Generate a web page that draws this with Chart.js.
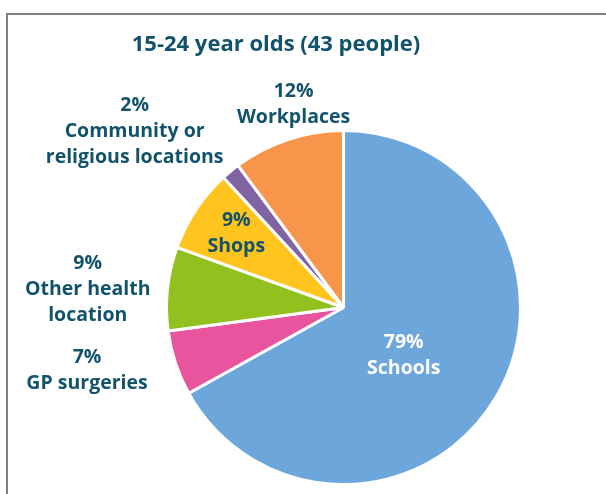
<!DOCTYPE html>
<html>
<head>
<meta charset="utf-8">
<script src="https://cdn.jsdelivr.net/npm/chart.js@4/dist/chart.umd.min.js"></script>
<style>
  html, body { margin: 0; padding: 0; background: #ffffff; }
  #wrap { position: relative; width: 606px; height: 494px; overflow: hidden; }
  #frame { position: absolute; left: 6px; top: 13px; width: 700px; height: 600px;
           border: 2px solid #808080; box-sizing: border-box; }
  canvas { position: absolute; left: 0; top: 0; }
</style>
</head>
<body>
<div id="wrap">
  <div id="frame"></div>
  <canvas id="chart" width="606" height="494"></canvas>
</div>
<script>
// Settings where people aged 15-24 were reported
const chartTitle = '15-24 year olds (43 people)';
const categories = ['Schools', 'GP surgeries', 'Other health location', 'Shops',
                    'Community or religious locations', 'Workplaces'];
const percentages = [79, 7, 9, 9, 2, 12];
const labelLines = [
  ['Schools'],
  ['GP surgeries'],
  ['Other health', 'location'],
  ['Shops'],
  ['Community or', 'religious locations'],
  ['Workplaces']
];
const sliceColors = ['#6CA6DA', '#E8559E', '#92C01F', '#FFC51E', '#8064A2', '#F7964A'];

// label anchor: fraction of the radius along each slice's middle angle, then a pixel nudge
const labelRadius = [0.5, 1.3, 1.3, 0.7, 1.3, 1.15];
const labelNudge = [[-16, 3], [-38, -9], [-27, 6], [-4, -6], [-62, 1], [14, -10]];
const labelColors = ['#ffffff', '#12536B', '#12536B', '#12536B', '#12536B', '#12536B'];

const textColor = '#12536B';
const fontFamily = '"Open Sans", "Noto Sans", sans-serif';

const sliceLabels = {
  id: 'sliceLabels',
  afterDatasetsDraw(chart) {
    const ctx = chart.ctx;
    const meta = chart.getDatasetMeta(0);
    ctx.save();
    ctx.textAlign = 'center';
    ctx.textBaseline = 'middle';

    // heading, set a little left of the pie's centre
    ctx.fillStyle = textColor;
    ctx.font = 'bold 22px ' + fontFamily;
    ctx.fillText(chartTitle, 276, 45);

    ctx.font = 'bold 19.5px ' + fontFamily;
    meta.data.forEach((arc, i) => {
      const p = arc.getProps(['x', 'y', 'startAngle', 'endAngle', 'outerRadius'], true);
      const mid = (p.startAngle + p.endAngle) / 2;
      const r = p.outerRadius * labelRadius[i];
      const cx = p.x + Math.cos(mid) * r + labelNudge[i][0];
      const cy = p.y + Math.sin(mid) * r + labelNudge[i][1];
      const lines = [percentages[i] + '%'].concat(labelLines[i]);
      const lh = 26;
      const top = cy - (lines.length - 1) * lh / 2;
      ctx.fillStyle = labelColors[i];
      lines.forEach((t, j) => ctx.fillText(t, cx, top + j * lh));
    });
    ctx.restore();
  }
};

new Chart(document.getElementById('chart'), {
  type: 'pie',
  data: {
    labels: categories,
    datasets: [{
      data: percentages,
      backgroundColor: sliceColors,
      borderColor: '#ffffff',
      borderWidth: 3
    }]
  },
  options: {
    responsive: false,
    animation: false,
    events: [],
    layout: { padding: { left: 165, right: 84, top: 129, bottom: 8 } },
    plugins: {
      legend: { display: false },
      tooltip: { enabled: false },
      title: { display: false }
    }
  },
  plugins: [sliceLabels]
});
</script>
</body>
</html>
